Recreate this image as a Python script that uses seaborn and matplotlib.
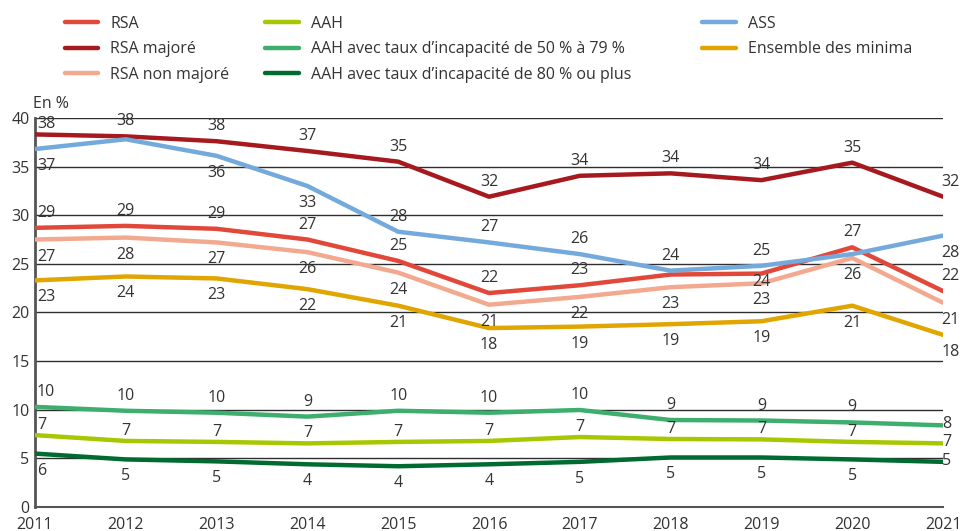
import pandas as pd
import matplotlib.pyplot as plt
import seaborn as sns

# Data
years = [2011, 2012, 2013, 2014, 2015, 2016, 2017, 2018, 2019, 2020, 2021]

series_names = [
    "RSA",
    "RSA majoré",
    "RSA non majoré",
    "AAH",
    "AAH avec taux d\u2019incapacité de 50 % à 79 %",
    "AAH avec taux d\u2019incapacité de 80 % ou plus",
    "ASS",
    "Ensemble des minima",
]

rsa = [28.7, 28.9, 28.6, 27.5, 25.3, 22.0, 22.8, 23.9, 24.0, 26.7, 22.2]
rsa_majore = [38.3, 38.1, 37.6, 36.6, 35.5, 31.9, 34.05, 34.3, 33.6, 35.4, 31.9]
rsa_non_majore = [27.5, 27.7, 27.2, 26.2, 24.1, 20.8, 21.6, 22.6, 23.0, 25.6, 21.0]
aah = [7.4, 6.8, 6.7, 6.55, 6.7, 6.8, 7.2, 7.0, 6.96, 6.7, 6.55]
aah_50_79 = [10.3, 9.9, 9.7, 9.3, 9.9, 9.7, 9.98, 8.95, 8.9, 8.7, 8.4]
aah_80 = [5.5, 4.9, 4.7, 4.4, 4.2, 4.4, 4.65, 5.1, 5.1, 4.9, 4.65]
ass = [36.8, 37.8, 36.1, 33.0, 28.3, 27.2, 26.0, 24.3, 24.8, 26.0, 27.9]
ensemble = [23.3, 23.7, 23.5, 22.4, 20.7, 18.4, 18.55, 18.8, 19.1, 20.7, 17.7]

# Printed labels (None = not shown)
rsa_lab = [29, 29, 29, 27, 25, 22, 23, None, 24, 27, 22]
rsa_majore_lab = [38, 38, 38, 37, 35, 32, 34, 34, 34, 35, 32]
rsa_non_majore_lab = [27, 28, 27, 26, 24, 21, 22, 23, 23, 26, 21]
aah_lab = [7, 7, 7, 7, 7, 7, 7, 7, 7, 7, 7]
aah_50_79_lab = [10, 10, 10, 9, 10, 10, 10, 9, 9, 9, 8]
aah_80_lab = [6, 5, 5, 4, 4, 4, 5, 5, 5, 5, 5]
ass_lab = [37, None, 36, 33, 28, 27, 26, 24, 25, None, 28]
ensemble_lab = [23, 24, 23, 22, 21, 18, 19, 19, 19, 21, 18]

# Label side: a = above, s = slightly above, b = below, c = just below,
# m = right of end point
rsa_pos = list("aaaaaaaacaa")
rsa_majore_pos = list("aaaaaaaaaaa")
rsa_non_majore_pos = list("bbbbbbbbbbb")
aah_pos = list("ssssssssssm")
aah_50_79_pos = list("aaaaaaaaaam")
aah_80_pos = list("bbbbbbbbbbm")
ass_pos = list("babbaaaaabb")
ensemble_pos = list("bbbbbbbbbbb")

colors = ["#E2483A", "#A6191E", "#F2A98F", "#A9C700",
          "#3DAE6E", "#006B30", "#74AADB", "#E1A500"]


def main():
    values = [rsa, rsa_majore, rsa_non_majore, aah, aah_50_79, aah_80, ass, ensemble]
    labels = [rsa_lab, rsa_majore_lab, rsa_non_majore_lab, aah_lab,
              aah_50_79_lab, aah_80_lab, ass_lab, ensemble_lab]
    positions = [rsa_pos, rsa_majore_pos, rsa_non_majore_pos, aah_pos,
                 aah_50_79_pos, aah_80_pos, ass_pos, ensemble_pos]

    rows = []
    for name, vals in zip(series_names, values):
        for y, v in zip(years, vals):
            rows.append({"annee": y, "taux": v, "serie": name})
    df = pd.DataFrame(rows)

    sns.set_theme(style="white")
    plt.rcParams["font.family"] = ["Open Sans", "DejaVu Sans"]
    text_color = "#333333"
    fs = 11.5

    fig = plt.figure(figsize=(9.63, 5.31), dpi=100)
    ax = fig.add_axes([0.0363, 0.045, 0.943, 0.733])

    for yv in range(5, 45, 5):
        ax.axhline(yv, color="#2e2e2e", lw=1.0, zorder=1)

    sns.lineplot(data=df, x="annee", y="taux", hue="serie",
                 hue_order=series_names, palette=colors, linewidth=3.2,
                 ax=ax, legend=True, zorder=3)

    # data labels
    for vals, labs, pos in zip(values, labels, positions):
        for i, (y, v, lab, p) in enumerate(zip(years, vals, labs, pos)):
            if lab is None:
                continue
            if p == "m":
                dx, dy, ha = -1, 1, "left"
            else:
                dy = {"a": 15, "s": 10, "b": -17, "c": -8}[p]
                if i == 0:
                    dx, ha = 2, "left"
                    if p == "a" and v > 38:
                        dy = 10
                elif i == len(years) - 1:
                    dx, ha = -2, "left"
                else:
                    dx, ha = 0, "center"
            ax.annotate(str(lab), (y, v), xytext=(dx, dy),
                        textcoords="offset pixels", ha=ha, va="center",
                        fontsize=fs, color=text_color, zorder=5)

    ax.set_xlim(2011, 2021)
    ax.set_ylim(0, 40)
    ax.set_xticks(years)
    ax.set_xticklabels([str(y) for y in years])
    ax.set_yticks(range(0, 45, 5))
    ax.set_xlabel("")
    ax.set_ylabel("")
    ax.tick_params(axis="x", direction="out", length=4, width=1,
                   color="#555555", labelsize=fs, labelcolor=text_color, pad=3)
    ax.tick_params(axis="y", length=0, labelsize=fs, labelcolor=text_color, pad=4)

    for side in ["top", "right"]:
        ax.spines[side].set_visible(False)
    ax.spines["left"].set_color("#555555")
    ax.spines["left"].set_linewidth(2)
    ax.spines["bottom"].set_color("#555555")
    ax.spines["bottom"].set_linewidth(1.5)

    fig.text(0.034, 0.79, "En %", fontsize=fs, color=text_color,
             ha="left", va="bottom")

    # legend: one block per column
    handles, leg_labels = ax.get_legend_handles_labels()
    ax.get_legend().remove()
    columns = [(0, 3, 0.055), (3, 6, 0.263), (6, 8, 0.717)]
    for start, stop, x0 in columns:
        leg = fig.legend(handles[start:stop], leg_labels[start:stop],
                         loc="upper left", bbox_to_anchor=(x0, 0.993),
                         frameon=False, fontsize=fs, handlelength=2.1,
                         handletextpad=0.75, labelspacing=0.6,
                         borderaxespad=0.35)
        for t in leg.get_texts():
            t.set_color(text_color)

    fig.savefig("out.png", dpi=100)


if __name__ == "__main__":
    main()
